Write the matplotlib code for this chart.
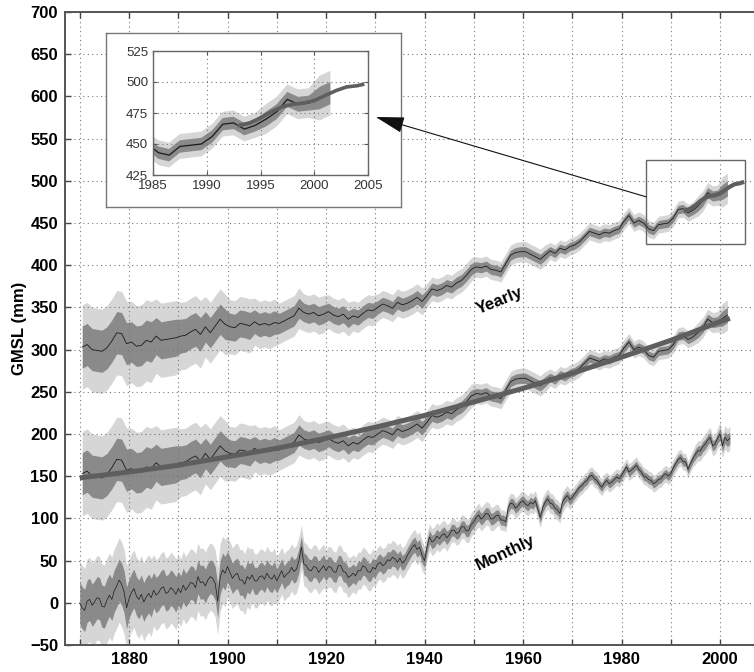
import numpy as np
import matplotlib.pyplot as plt
from matplotlib.patches import Rectangle

plt.rcParams['font.family'] = ['Liberation Sans', 'DejaVu Sans']

# yearly GMSL (mm), one value per year 1870..2001, plotted at mid-year
years = np.arange(1870, 2002)
gmsl_yearly = [
    153, 156, 150, 149, 148, 152, 160, 170, 169, 157,
    159, 154, 155, 161, 159, 166, 161, 162, 163, 164,
    166, 167, 171, 174, 168, 177, 170, 178, 186, 180,
    177, 176, 181, 180, 178, 183, 179, 181, 179, 182,
    181, 184, 187, 190, 199, 194, 192, 194, 190, 192,
    195, 191, 189, 192, 186, 190, 188, 193, 197, 196,
    200, 204, 202, 199, 206, 203, 205, 208, 212, 207,
    214, 222, 220, 222, 226, 224, 229, 232, 238, 245,
    248, 247, 249, 245, 244, 242, 252, 262, 265, 266,
    266, 263, 260, 257, 262, 267, 264, 270, 268, 272,
    274, 278, 284, 290, 288, 286, 289, 288, 291, 293,
    302, 309, 300, 303, 300, 293, 291, 298, 299, 300,
    306, 316, 317, 312, 315, 320, 326, 336, 332, 333,
    337, 341,
]
# one standard error, per 5-year block from 1870
sig_yearly = [25, 25, 24, 22, 20, 18, 16, 14, 12, 11, 10, 9, 8, 8,
              7, 7, 6, 6, 6, 5, 5, 5, 5, 5, 5, 6, 9]

# monthly series, sampled every half year 1870.0..2002.0
t_monthly = np.arange(1870, 2002.01, 0.5)
gmsl_monthly = [
    0, -6, -9, 2, 4, -3, 1, 6, 5, -4, -5, 3, 9, 4, 14, 20, 27, 22, 13, -6,
    5, 12, 17, 8, 4, 10, 1, 7, 11, 6, 15, 9, 12, 17, 19, 11, 13, 18, 15, 10,
    17, 12, 21, 15, 19, 24, 23, 18, 31, 24, 25, 20, 27, 31, 29, 23, 2, 30, 39, 35,
    43, 36, 29, 33, 35, 27, 27, 22, 31, 28, 33, 26, 26, 31, 32, 28, 35, 30, 28, 33,
    26, 32, 38, 30, 34, 36, 42, 37, 40, 50, 66, 46, 44, 39, 38, 43, 42, 36, 40, 44,
    38, 43, 42, 37, 36, 44, 44, 37, 36, 30, 32, 35, 32, 38, 38, 44, 42, 37, 36, 42,
    40, 46, 48, 44, 46, 51, 50, 54, 52, 48, 53, 47, 50, 56, 61, 66, 69, 63, 66, 56,
    50, 66, 78, 72, 74, 79, 76, 80, 82, 77, 80, 86, 86, 82, 84, 90, 90, 85, 86, 93,
    96, 101, 104, 99, 102, 106, 105, 99, 100, 103, 104, 98, 98, 96, 113, 118, 117, 112, 115, 119,
    121, 117, 115, 119, 117, 121, 111, 101, 113, 119, 123, 118, 117, 112, 110, 106, 119, 124, 127, 122,
    125, 129, 133, 137, 139, 143, 145, 150, 151, 147, 145, 140, 137, 142, 145, 141, 143, 146, 149, 147,
    151, 156, 161, 155, 157, 160, 163, 158, 155, 150, 149, 146, 145, 141, 143, 146, 147, 151, 153, 150,
    153, 160, 165, 170, 172, 167, 167, 158, 165, 171, 176, 180, 180, 185, 188, 193, 196, 186, 188, 195,
    200, 186, 196, 192, 195,
]
sig_monthly = [25, 25, 23, 21, 20, 20, 18, 16, 14, 13, 12, 11, 10, 9,
               8, 7, 7, 6, 6, 6, 5, 5, 5, 5, 5, 6, 7]

# quadratic fit to the yearly data
fit_years = [1870, 1880, 1890, 1900, 1910, 1920, 1930, 1940, 1950, 1960, 1970, 1980, 1990, 2000, 2002]
fit_gmsl = [148, 155, 163, 173, 183, 195, 208, 222, 238, 254, 272, 291, 311, 333, 337]

# satellite altimetry
alt_years = [1993, 1994, 1995, 1996, 1997, 1998, 1999, 2000, 2001, 2002, 2003, 2004, 2004.5]
alt_gmsl = [315, 317, 321, 326, 330, 332, 333, 335, 339, 343, 346, 347, 348]

offset_top = 150

LIGHT = '#d6d6d6'
DARK = '#8a8a8a'
LINE = '#1a1a1a'
THICK = '#5e5e5e'

ty = years + 0.5
gy = np.array(gmsl_yearly, float)
sy = np.array(sig_yearly, float)[((years - 1870) // 5).astype(int)]
gm = np.array(gmsl_monthly, float)
sm = np.array(sig_monthly, float)[((t_monthly - 1870) // 5).astype(int)]


def band(ax, t, y, s, lw=0.7):
    ax.fill_between(t, y - 2 * s, y + 2 * s, color=LIGHT, lw=0)
    ax.fill_between(t, y - s, y + s, color=DARK, lw=0)
    ax.plot(t, y, color=LINE, lw=lw)


fig = plt.figure(figsize=(7.54, 6.72), dpi=100)
ax = fig.add_axes([65 / 754, 1 - 645 / 672, 689 / 754, 633 / 672])

band(ax, ty, gy + offset_top, sy, lw=0.6)
ax.plot(np.array(alt_years), np.array(alt_gmsl) + offset_top, color=THICK, lw=3)
band(ax, ty, gy, sy, lw=0.6)
ax.plot(fit_years, fit_gmsl, color=THICK, lw=3.6, solid_capstyle='butt')
band(ax, t_monthly, gm, sm, lw=0.5)

ax.add_patch(Rectangle((1985, 425), 20, 100, fill=False, ec='#666666', lw=1))

ax.text(1955.3, 358, 'Yearly', rotation=22, ha='center', va='center',
        fontsize=12, fontweight='bold')
ax.text(1956.5, 59, 'Monthly', rotation=25, ha='center', va='center',
        fontsize=12, fontweight='bold')

ax.set_xlim(1867, 2006.9)
ax.set_ylim(-50, 700)
xt = np.arange(1870, 2001, 10)
ax.set_xticks(xt)
ax.set_xticklabels([str(x) if x % 20 == 0 else '' for x in xt])
ax.set_yticks(np.arange(-50, 701, 50))
ax.tick_params(direction='in', top=True, right=False, length=4, width=1,
               color='#444444', labelsize=12, pad=5)
for lab in ax.get_xticklabels() + ax.get_yticklabels():
    lab.set_fontweight('bold')
ax.grid(True, linestyle=(0, (1, 3)), color='#777777', lw=0.8)
for side in ['left', 'bottom', 'top']:
    ax.spines[side].set_color('#555555')
    ax.spines[side].set_linewidth(1.4)
ax.spines['right'].set_visible(False)
ax.set_ylabel('GMSL (mm)', fontsize=12, fontweight='bold')
ax.yaxis.set_label_coords(-0.055, 0.5)

# white panel holding the zoomed view
box = fig.add_axes([106 / 754, 1 - 207 / 672, 295 / 754, 174 / 672])
box.set_xticks([])
box.set_yticks([])
box.set_facecolor('white')
for sp in box.spines.values():
    sp.set_color('#777777')
    sp.set_linewidth(1)

box.annotate('', xy=(1930.1, 575.6), xycoords=ax.transData,
             xytext=(1985, 481), textcoords=ax.transData,
             arrowprops=dict(arrowstyle='-|>,head_length=1.8,head_width=0.5',
                             color='#111111', lw=0.8, shrinkA=0, shrinkB=0))

ins = fig.add_axes([153 / 754, 1 - 175 / 672, 215 / 754, 124 / 672])
band(ins, ty, gy + offset_top, sy, lw=0.9)
ins.plot(np.array(alt_years), np.array(alt_gmsl) + offset_top, color=THICK, lw=2.6)
ins.set_xlim(1985, 2005)
ins.set_ylim(425, 525)
ins.set_xticks(np.arange(1985, 2006, 5))
ins.set_yticks(np.arange(425, 526, 25))
ins.tick_params(direction='in', top=True, right=True, length=3, width=0.8,
                color='#555555', labelsize=9.5, labelcolor='#333333')
ins.grid(True, linestyle=(0, (1, 3)), color='#777777', lw=0.8)
for sp in ins.spines.values():
    sp.set_color('#666666')
    sp.set_linewidth(1)

fig.savefig('out.png', dpi=100)
